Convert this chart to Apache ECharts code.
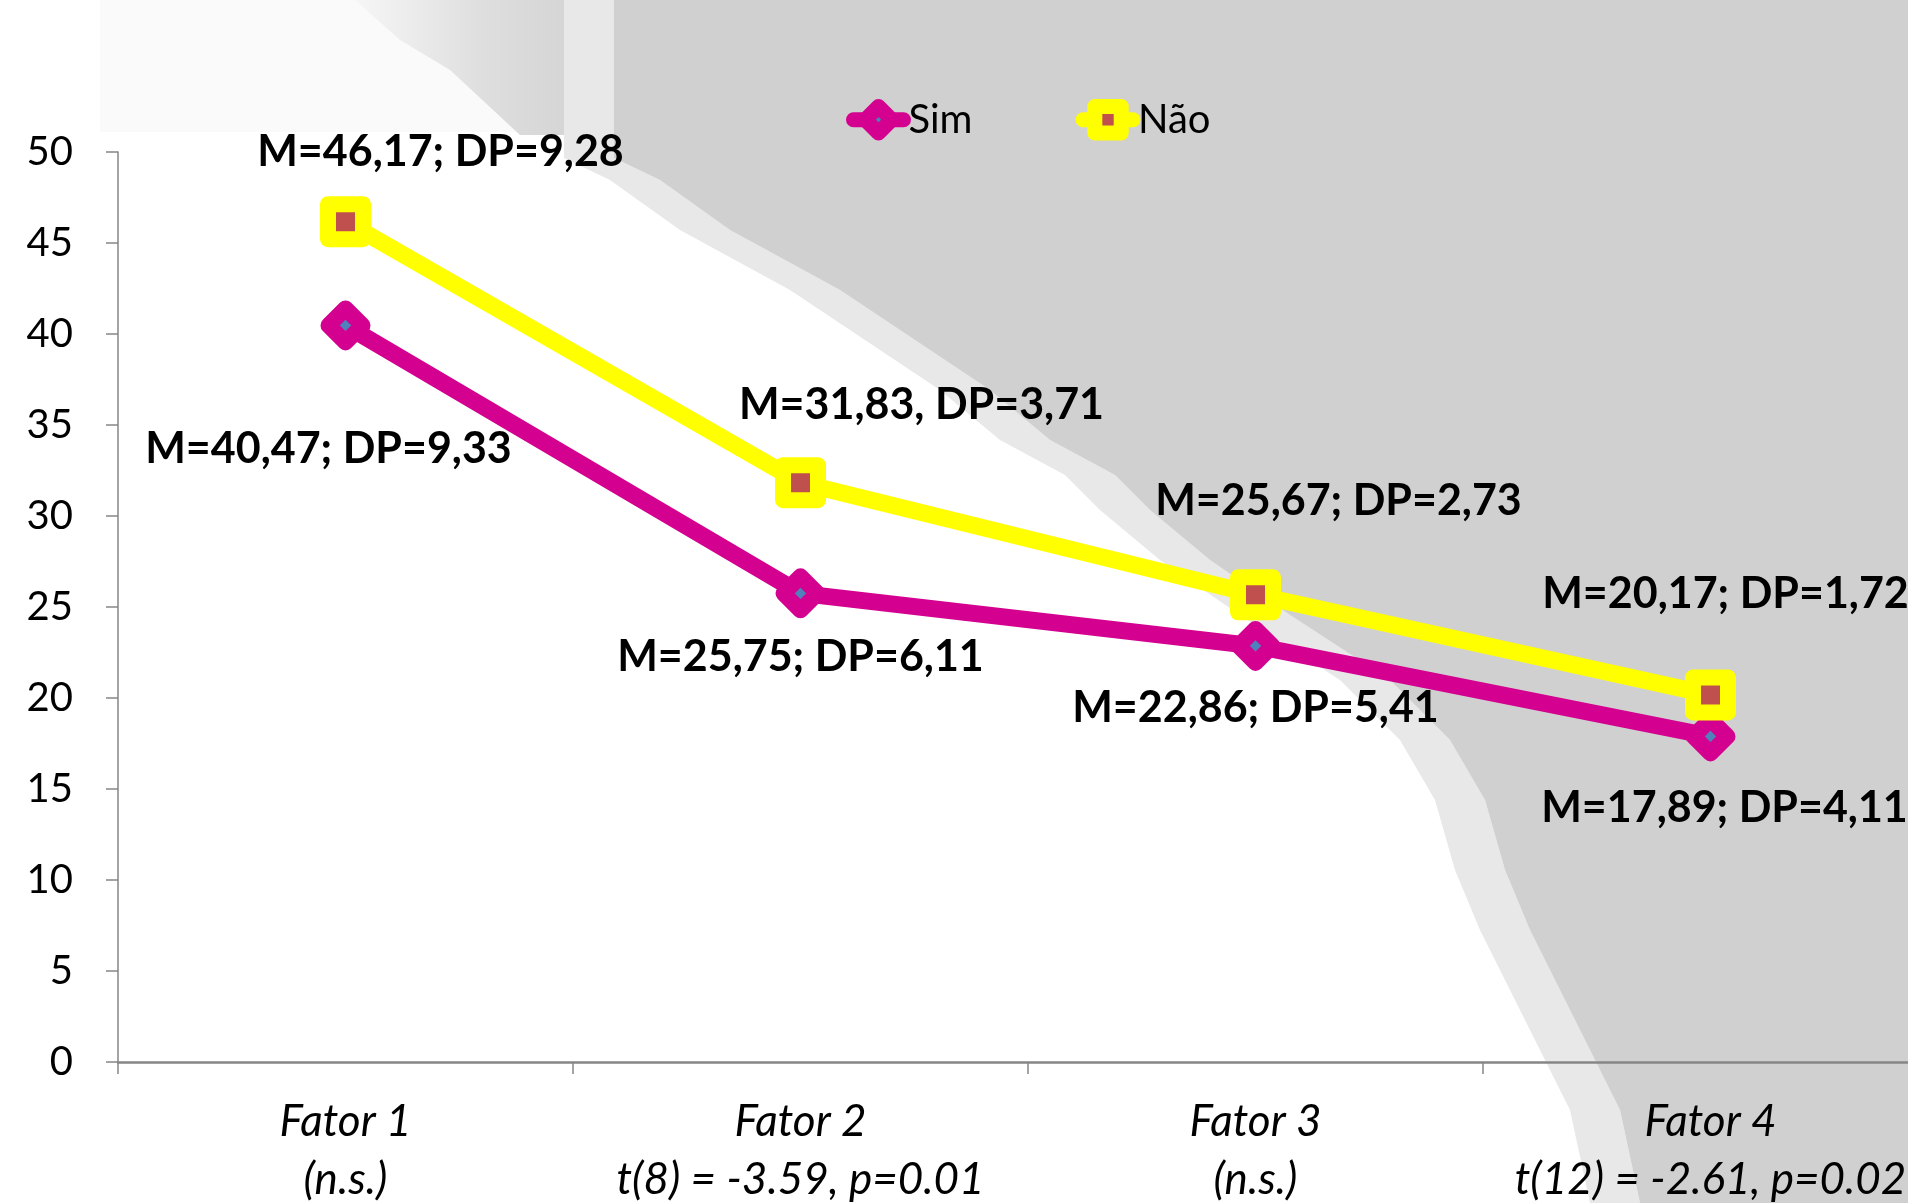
<!DOCTYPE html>
<html><head><meta charset="utf-8">
<script src="https://cdn.jsdelivr.net/npm/echarts@6/dist/echarts.min.js"></script>
<style>html,body{margin:0;padding:0;background:#fff;overflow:hidden}#c{width:1908px;height:1203px}</style>
</head><body><div id="c"></div>
<script>
// ---- data ----
const categories = ['Fator 1', 'Fator 2', 'Fator 3', 'Fator 4'];
const testLabels = ['(n.s.)', 't(8) = -3.59, p=0.01', '(n.s.)', 't(12) = -2.61, p=0.02'];
const simMeans = [40.47, 25.75, 22.86, 17.89];
const naoMeans = [46.17, 31.83, 25.67, 20.17];
const simLabels = ['M=40,47; DP=9,33', 'M=25,75; DP=6,11', 'M=22,86; DP=5,41', 'M=17,89; DP=4,11'];
const naoLabels = ['M=46,17; DP=9,28', 'M=31,83, DP=3,71', 'M=25,67; DP=2,73', 'M=20,17; DP=1,72'];
const yMin = 0, yMax = 50, yStep = 5;

// ---- layout / style ----
const FONT = 'Lato, "Open Sans", sans-serif';
const simOffsets = [[-17, 124], [0, 64], [0, 62], [14, 72]];
const naoOffsets = [[95, -70], [121, -78], [83, -94], [15, -101]];
const grayEdge = [[614,0],[614,158],[660,180],[730,230],[840,290],[900,330],[990,390],[1050,440],[1115,475],[1150,510],[1210,560],[1290,615],[1390,680],[1450,740],[1485,800],[1505,870],[1530,930],[1580,1030],[1620,1110],[1640,1203]];
const grayPoly = grayEdge.concat([[1908,1203],[1908,0]]);
const lightPoly = grayEdge.map(p => [p[0] - 50, p[1]]).concat(grayEdge.slice().reverse());

const chart = echarts.init(document.getElementById('c'), null, {renderer: 'canvas'});

const makeData = (vals, offs) => vals.map((v, i) => ({value: v, label: {offset: offs[i]}}));

chart.setOption({
  animation: false,
  backgroundColor: '#ffffff',
  graphic: [
    {type: 'rect', z: -11, silent: true, shape: {x: 100, y: 0, width: 514, height: 132}, style: {fill: '#fafafa'}},
    {type: 'polygon', z: -10, silent: true, shape: {points: [[355,0],[614,0],[614,135],[520,135],[450,70],[400,40]]},
      style: {fill: new echarts.graphic.LinearGradient(0, 0, 1, 0, [{offset: 0, color: '#f6f6f6'}, {offset: 0.5, color: '#dedede'}, {offset: 1, color: '#d0d0d0'}])}},
    {type: 'polygon', z: -9, silent: true, shape: {points: lightPoly}, style: {fill: '#e8e8e8'}},
    {type: 'polygon', z: -8, silent: true, shape: {points: grayPoly}, style: {fill: '#d0d0d0'}}
  ],
  legend: {
    left: 841, top: 94,
    itemWidth: 50, itemHeight: 33, itemGap: 103,
    lineStyle: {width: 15, cap: 'round'},
    itemStyle: {borderWidth: 15},
    textStyle: {fontFamily: FONT, fontSize: 40, color: '#000'},
    data: ['Sim', 'Não']
  },
  grid: {left: 118, right: -30, top: 152, bottom: 141, containLabel: false, outerBoundsMode: 'none'},
  xAxis: {
    type: 'category',
    data: categories,
    boundaryGap: true,
    axisLine: {lineStyle: {color: '#868686', width: 2.5}},
    axisTick: {show: true, length: 12, inside: false, lineStyle: {color: '#868686', width: 1.5}},
    axisLabel: {
      margin: 31,
      interval: 0,
      formatter: (v, i) => '{a|' + v + '}\n{a|' + testLabels[i] + '}',
      rich: {a: {fontFamily: FONT, fontStyle: 'italic', fontSize: 44, lineHeight: 58, color: '#000'}}
    },
    splitLine: {show: false}
  },
  yAxis: {
    type: 'value',
    min: yMin, max: yMax, interval: yStep,
    axisLine: {show: true, lineStyle: {color: '#868686', width: 1.5}},
    axisTick: {show: true, length: 12, lineStyle: {color: '#868686', width: 1.5}},
    axisLabel: {margin: 45, fontFamily: FONT, fontSize: 40, color: '#000'},
    splitLine: {show: false}
  },
  series: [
    {
      name: 'Sim', type: 'line',
      data: makeData(simMeans, simOffsets),
      symbol: 'diamond', symbolSize: 34,
      lineStyle: {color: '#D4008F', width: 17},
      itemStyle: {color: '#4F81BD', borderColor: '#D4008F', borderWidth: 16, borderJoin: 'round'},
      label: {
        show: true, position: 'inside', align: 'center', verticalAlign: 'middle',
        fontFamily: FONT, fontWeight: 'bold', fontSize: 43, color: '#000',
        formatter: p => simLabels[p.dataIndex]
      },
      z: 3
    },
    {
      name: 'Não', type: 'line',
      data: makeData(naoMeans, naoOffsets),
      symbol: 'rect', symbolSize: 35,
      lineStyle: {color: '#FFFF00', width: 17},
      itemStyle: {color: '#C0504D', borderColor: '#FFFF00', borderWidth: 16, borderJoin: 'round'},
      label: {
        show: true, position: 'inside', align: 'center', verticalAlign: 'middle',
        fontFamily: FONT, fontWeight: 'bold', fontSize: 43, color: '#000',
        formatter: p => naoLabels[p.dataIndex]
      },
      z: 4
    }
  ]
});
</script>
</body></html>
